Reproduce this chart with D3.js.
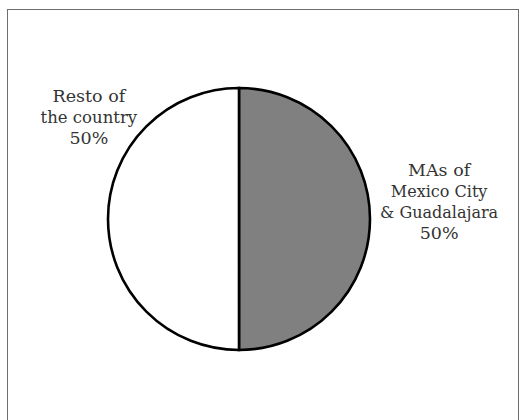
<!DOCTYPE html>
<html>
<head>
<meta charset="utf-8">
<script src="https://cdn.jsdelivr.net/npm/d3@7"></script>
<style>
  html, body { margin: 0; padding: 0; background: #fff; }
  svg { display: block; }
  .lbl { font-family: "DejaVu Serif", serif; }
</style>
</head>
<body>
<svg id="chart" width="526" height="420"></svg>
<script>
// Share of the total, by region
const regions = ["MAs of Mexico City & Guadalajara", "Resto of the country"];
const shares = [50, 50];
// Label text, broken into lines
const labelLines = [
  ["MAs of", "Mexico City", "& Guadalajara", "50%"],
  ["Resto of", "the country", "50%"]
];
const fills = ["#808080", "#ffffff"];

const cx = 239, cy = 219, R = 131;

const svg = d3.select("#chart");

// outer frame
svg.append("rect")
  .attr("x", 7.5).attr("y", 9.5)
  .attr("width", 511).attr("height", 420)
  .attr("fill", "none")
  .attr("stroke", "#6e6e6e")
  .attr("stroke-width", 1);

const data = regions.map((r, i) => ({ region: r, value: shares[i], lines: labelLines[i], fill: fills[i] }));

const pie = d3.pie().sort(null).value(d => d.value);
const arc = d3.arc().innerRadius(0).outerRadius(R);
const arcs = pie(data);

const g = svg.append("g").attr("transform", `translate(${cx},${cy})`);

g.selectAll("path.slice")
  .data(arcs)
  .join("path")
  .attr("class", "slice")
  .attr("d", arc)
  .attr("fill", d => d.data.fill)
  .attr("stroke", "#000")
  .attr("stroke-width", 2.6)
  .attr("stroke-linejoin", "miter");

// label anchors placed outside the pie along each slice's direction
const labelArc = d3.arc().innerRadius(R * 1.52).outerRadius(R * 1.52);
const labelShift = [[1, -11.5], [49, -96]];
const lineH = 21;

const labels = svg.append("g")
  .attr("class", "lbl")
  .attr("fill", "#333")
  .attr("text-anchor", "middle");

arcs.forEach((d, i) => {
  const [x, y] = labelArc.centroid(d);
  const lx = cx + x + labelShift[i][0];
  const ly = cy + y + labelShift[i][1];
  const n = d.data.lines.length;
  const t = labels.append("text")
    .attr("x", lx)
    .attr("y", ly - (n - 1) * lineH / 2)
    .style("font-size", "17.5px");
  d.data.lines.forEach((line, k) => {
    t.append("tspan")
      .attr("x", lx)
      .attr("dy", k === 0 ? 0 : lineH)
      .style("font-size", (i === 0 && k > 0 && k < 3) ? "16px" : (i === 1 && k === 1 ? "16.5px" : "17.5px"))
      .text(line);
  });
});
</script>
</body>
</html>
